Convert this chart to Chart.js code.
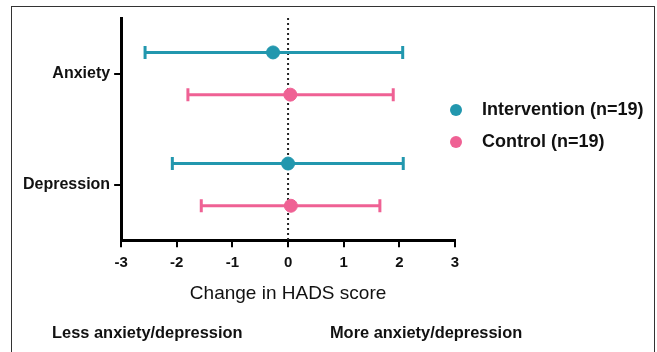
<!DOCTYPE html>
<html>
<head>
<meta charset="utf-8">
<script src="https://cdn.jsdelivr.net/npm/chart.js@4.4.1/dist/chart.umd.min.js"></script>
<style>
  html, body { margin: 0; padding: 0; background: #fff; }
  #wrap { position: relative; width: 657px; height: 352px; overflow: hidden; }
  #frame { position: absolute; left: 11px; top: 6px; width: 642px; height: 400px; border: 1px solid #333; }
  #chart { position: absolute; left: 0; top: 0; }
</style>
</head>
<body>
<div id="wrap">
  <div id="frame"></div>
  <canvas id="chart" width="657" height="352"></canvas>
</div>
<script>
// HADS change, mean with interval
var categories = ['Anxiety', 'Depression'];
var groupNames = ['Intervention (n=19)', 'Control (n=19)'];

var interventionMean = [-0.27, 0.0];
var interventionLow = [-2.57, -2.08];
var interventionHigh = [2.06, 2.07];

var controlMean = [0.04, 0.05];
var controlLow = [-1.80, -1.56];
var controlHigh = [1.89, 1.65];

var xTicks = [-3, -2, -1, 0, 1, 2, 3];
var sideLabels = ['Less anxiety/depression', 'More anxiety/depression'];

var teal = '#2297ae';
var pink = '#ef6194';
var fontName = '"Liberation Sans", Arial, sans-serif';

// row position of a category (index) and group offset
function rowY(i, off) { return 1 + 2 * i + off; }

function meanData(mean, off) {
    return mean.map(function (m, i) { return {x: m, y: rowY(i, off)}; });
}

var datasets = [
    {
        label: groupNames[0],
        data: meanData(interventionMean, -0.38),
        backgroundColor: teal,
        borderColor: teal,
        pointRadius: 6.5,
        order: 0
    },
    {
        label: groupNames[1],
        data: meanData(controlMean, 0.38),
        backgroundColor: pink,
        borderColor: pink,
        pointRadius: 6.5,
        order: 0
    }
];

// one line dataset per interval, caps drawn as rotated line points
function addBars(low, high, off, color) {
    for (var i = 0; i < categories.length; i++) {
        datasets.push({
            label: 'ci',
            data: [{x: low[i], y: rowY(i, off)}, {x: high[i], y: rowY(i, off)}],
            showLine: true,
            borderColor: color,
            backgroundColor: color,
            borderWidth: 3,
            pointStyle: 'line',
            rotation: 90,
            pointRadius: 6.5,
            pointBorderWidth: 3,
            order: 1
        });
    }
}
addBars(interventionLow, interventionHigh, -0.38, teal);
addBars(controlLow, controlHigh, 0.38, pink);

datasets.push({
    label: 'zero',
    data: [{x: 0, y: 0}, {x: 0, y: 4}],
    showLine: true,
    borderColor: '#222',
    borderWidth: 2,
    borderDash: [2, 3],
    pointRadius: 0,
    order: 2
});

// legend + the two labels under the axis
var extras = {
    id: 'extras',
    afterDraw: function (chart) {
        var ctx = chart.ctx;
        var xs = chart.scales.x;
        var ca = chart.chartArea;
        ctx.save();
        ctx.fillStyle = '#111';
        ctx.textBaseline = 'middle';

        ctx.font = 'bold 16.4px ' + fontName;
        ctx.textAlign = 'center';
        ctx.fillText(sideLabels[0], xs.getPixelForValue(-2.53), ca.bottom + 93);
        ctx.fillText(sideLabels[1], xs.getPixelForValue(2.48), ca.bottom + 93);

        ctx.textAlign = 'left';
        ctx.font = 'bold 18px ' + fontName;
        for (var i = 0; i < 2; i++) {
            var ds = chart.data.datasets[i];
            var y = ca.top + 92 + i * 32;
            ctx.beginPath();
            ctx.fillStyle = ds.backgroundColor;
            ctx.arc(ca.right + 1, y, 6, 0, Math.PI * 2);
            ctx.fill();
            ctx.fillStyle = '#111';
            ctx.fillText(ds.label, ca.right + 27, y);
        }
        ctx.restore();
    }
};

new Chart(document.getElementById('chart'), {
    type: 'scatter',
    data: {datasets: datasets},
    options: {
        responsive: false,
        animation: false,
        layout: {padding: {top: 18, left: 19, right: 202, bottom: 47}},
        plugins: {
            tooltip: {enabled: false},
            legend: {display: false}
        },
        scales: {
            x: {
                type: 'linear',
                min: -3,
                max: 3,
                afterBuildTicks: function (s) { s.ticks = xTicks.map(function (v) { return {value: v}; }); },
                grid: {drawOnChartArea: false, drawTicks: true, tickLength: 7, color: '#000', lineWidth: 2},
                border: {display: true, color: '#000', width: 3},
                ticks: {color: '#111', padding: 7, font: {family: fontName, size: 15, weight: 'bold'}},
                title: {
                    display: true,
                    text: 'Change in HADS score',
                    color: '#111',
                    padding: {top: 3, bottom: 0},
                    font: {family: fontName, size: 19}
                }
            },
            y: {
                type: 'linear',
                reverse: true,
                min: 0,
                max: 4,
                afterBuildTicks: function (s) { s.ticks = categories.map(function (c, i) { return {value: rowY(i, 0)}; }); },
                grid: {drawOnChartArea: false, drawTicks: true, tickLength: 7, color: '#000', lineWidth: 2},
                border: {display: true, color: '#000', width: 3},
                ticks: {
                    color: '#111',
                    padding: 4,
                    font: {family: fontName, size: 16, weight: 'bold'},
                    callback: function (v) { return categories[(v - 1) / 2]; }
                }
            }
        }
    },
    plugins: [extras]
});
</script>
</body>
</html>
